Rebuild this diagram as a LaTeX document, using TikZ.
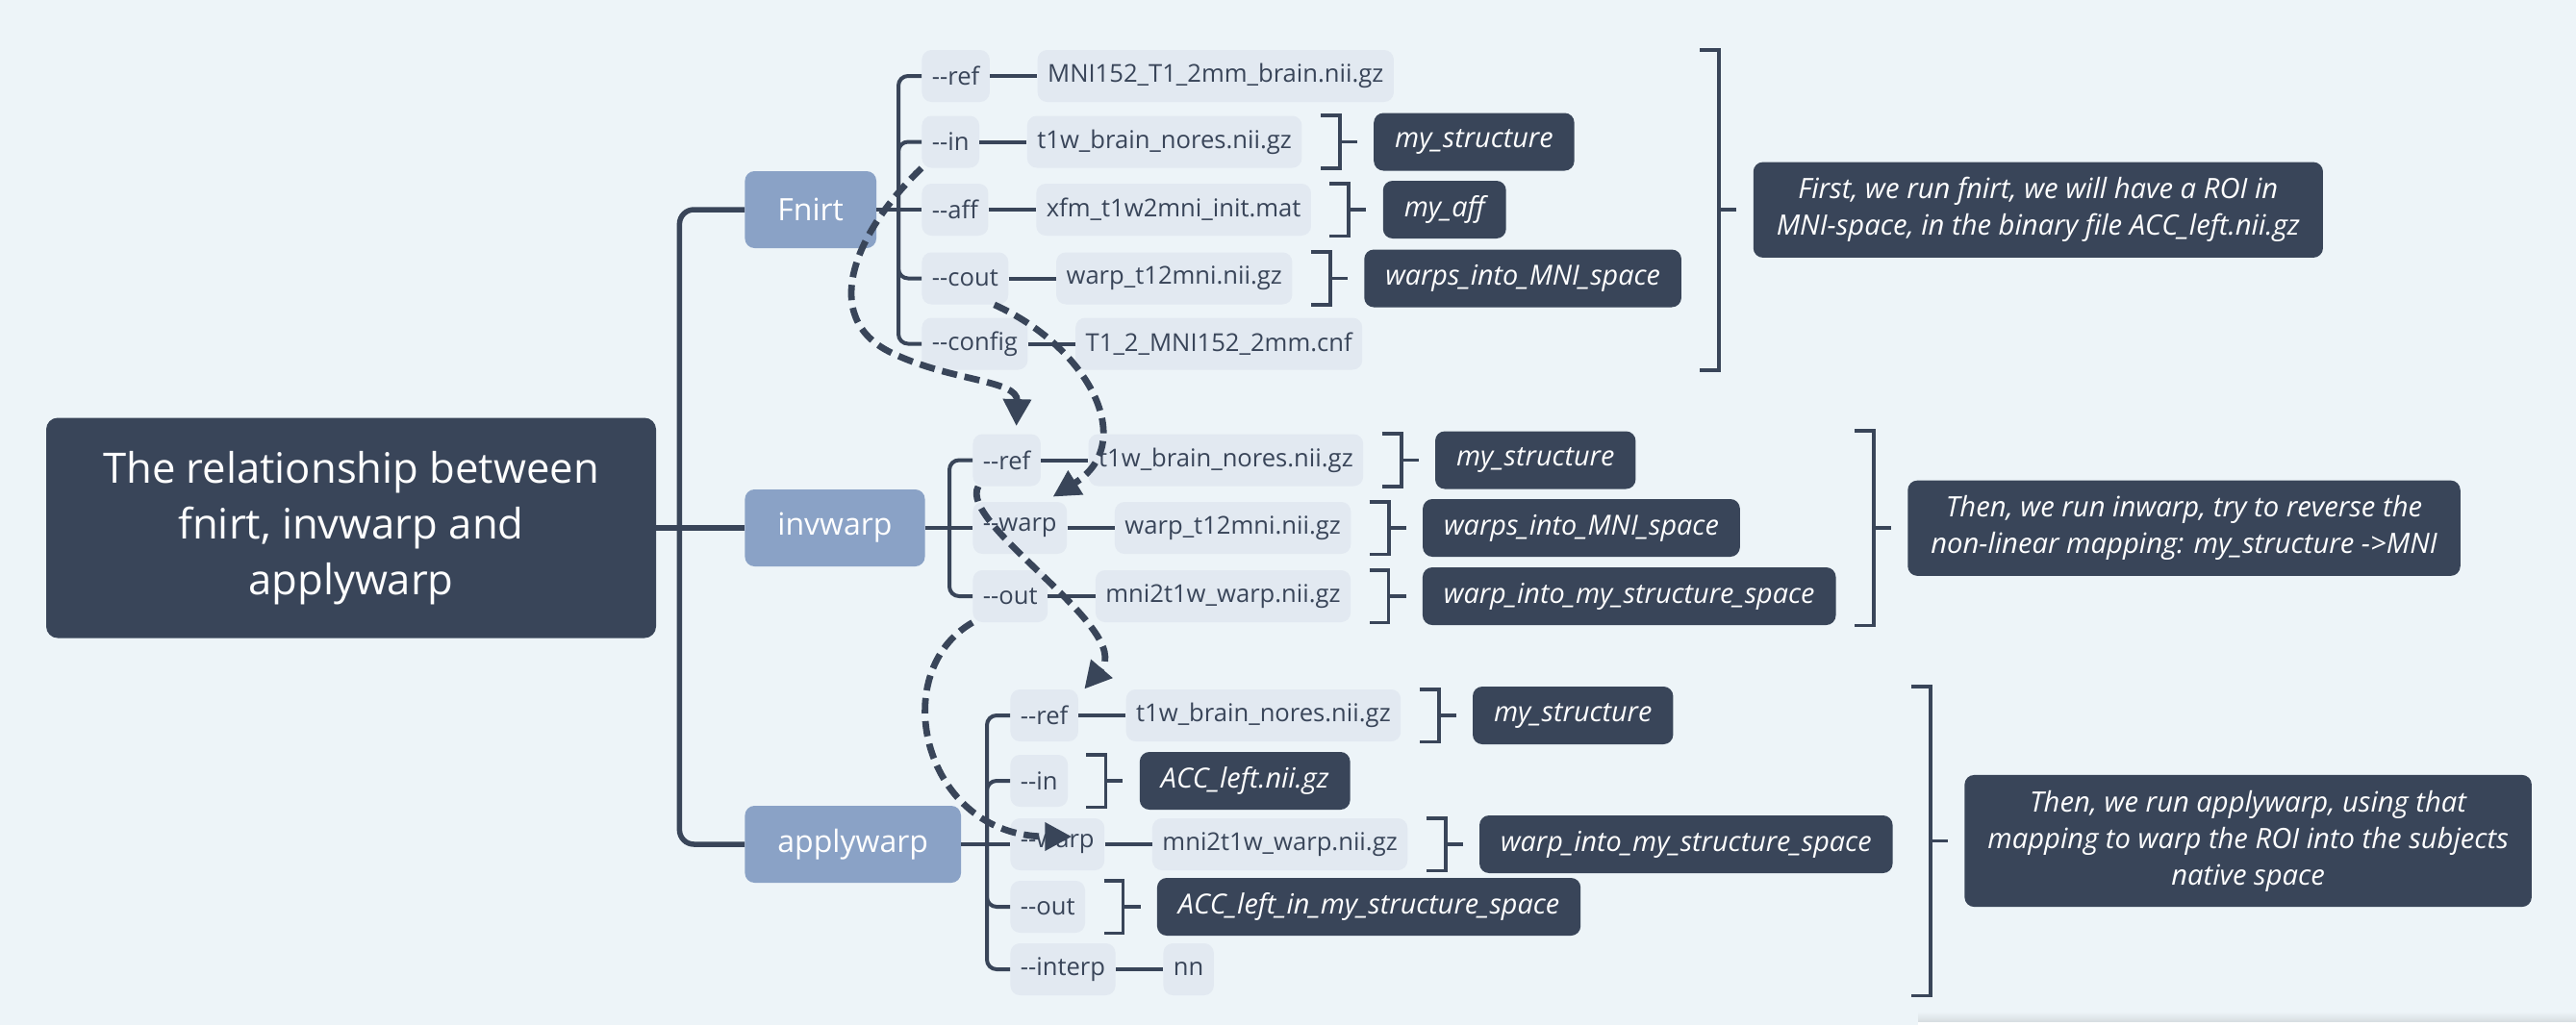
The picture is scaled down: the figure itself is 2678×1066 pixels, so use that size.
\documentclass[tikz,border=0pt]{standalone}
\usepackage{fontspec}
\setmainfont{Open Sans}
\usetikzlibrary{positioning,calc,arrows.meta}
\definecolor{bgc}{HTML}{EDF4F8}
\definecolor{navy}{HTML}{394559}
\definecolor{steel}{HTML}{8AA2C6}
\definecolor{mist}{HTML}{E2E9F1}

\begin{document}
\begin{tikzpicture}[x=0.5pt,y=-0.5pt]
\tikzstyle{every node}+=[inner ysep=0pt]
\tikzstyle{rootbox}=[fill=navy, text=white, rounded corners=6pt, minimum width=317pt, minimum height=114.5pt, align=center, font=\fontsize{21.8pt}{29pt}\selectfont]
\tikzstyle{branch}=[fill=steel, text=white, rounded corners=5pt, inner xsep=17pt, minimum height=40pt, font=\fontsize{16pt}{19pt}\selectfont]
\tikzstyle{opt}=[fill=mist, text=navy, rounded corners=5pt, inner xsep=5.25pt, minimum height=27pt, font=\fontsize{12.8pt}{15pt}\selectfont]
\tikzstyle{tag}=[fill=navy, text=white, rounded corners=5pt, inner xsep=11pt, minimum height=30pt, font=\fontsize{14.4pt}{17pt}\selectfont\itshape]
\tikzstyle{note}=[tag, inner xsep=12pt, inner ysep=8pt, align=center, font=\fontsize{14.6pt}{19pt}\selectfont\itshape]
\tikzstyle{trunk}=[navy, line width=2.75pt, rounded corners=7.5pt]
\tikzstyle{link}=[navy, line width=2pt, rounded corners=5pt]
\tikzstyle{brk}=[navy, line width=1.9pt]
\tikzstyle{flow}=[navy, line width=3.4pt, dash pattern=on 8pt off 4pt, -{Triangle[length=14pt,width=14pt]}]
\fill[bgc] (0,0) rectangle (2678,1066);
\useasboundingbox (0,0) rectangle (2678,1066);
\shade[top color=bgc, bottom color=black!10!bgc] (1994,1052) rectangle (2678,1063);
\fill[white] (1994,1063) rectangle (2678,1066);
% root and the three commands
\node[rootbox] (root) at (365,549) {The relationship between\\fnirt, invwarp and\\applywarp};
\node[branch, anchor=west] (fnirt) at (774,218) {Fnirt};
\node[branch, anchor=west] (invwarp) at (774,549) {invwarp};
\node[branch, anchor=west] (applywarp) at (774,878) {applywarp};
\coordinate (rt) at ([xshift=12pt]root.east);
\draw[trunk] (root) -- (invwarp);
\draw[trunk] (rt) |- (fnirt.west);
\draw[trunk] (rt) |- (applywarp.west);
% fnirt
\node[opt, anchor=west] (fref) at (958,79) {-{}-ref};
\node[opt, anchor=west] (fin) at (958,147.5) {-{}-in};
\node[opt, anchor=west] (faff) at (958,218) {-{}-aff};
\node[opt, anchor=west] (fcout) at (958,289.5) {-{}-cout};
\node[opt, anchor=west] (fconfig) at (958,357.5) {-{}-config};
\node[opt, right=24.5pt of fref] (frefv) {MNI152\_T1\_2mm\_brain.nii.gz};
\node[opt, right=24.5pt of fin] (finv) {t1w\_brain\_nores.nii.gz};
\node[opt, right=24.5pt of faff] (faffv) {xfm\_t1w2mni\_init.mat};
\node[opt, right=24.5pt of fcout] (fcoutv) {warp\_t12mni.nii.gz};
\node[opt, right=24.5pt of fconfig] (fconfigv) {T1\_2\_MNI152\_2mm.cnf};
\node[tag, right=37pt of finv] (find) {my\_structure};
\node[tag, right=37pt of faffv] (faffd) {my\_aff};
\node[tag, right=37pt of fcoutv] (fcoutd) {warps\_into\_MNI\_space};
\coordinate (ftr) at ([xshift=-12pt]faff.west);
\draw[link] (fnirt) -- (faff);
\draw[link] (ftr) |- (fref.west);
\draw[link] (ftr) |- (fin.west);
\draw[link] (ftr) |- (fcout.west);
\draw[link] (ftr) |- (fconfig.west);
\draw[link] (fref) -- (frefv);
\draw[link] (fin) -- (finv);
\draw[link] (faff) -- (faffv);
\draw[link] (fcout) -- (fcoutv);
\draw[link] (fconfig) -- (fconfigv);
% invwarp
\node[opt, anchor=west] (iref) at (1011,478.5) {-{}-ref};
\node[opt, anchor=west] (iwarp) at (1011,549) {-{}-warp};
\node[opt, anchor=west] (iout) at (1011,620) {-{}-out};
\node[opt, right=24.5pt of iref] (irefv) {t1w\_brain\_nores.nii.gz};
\node[opt, right=24.5pt of iwarp] (iwarpv) {warp\_t12mni.nii.gz};
\node[opt, right=24.5pt of iout] (ioutv) {mni2t1w\_warp.nii.gz};
\node[tag, right=37pt of irefv] (irefd) {my\_structure};
\node[tag, right=37pt of iwarpv] (iwarpd) {warps\_into\_MNI\_space};
\node[tag, right=37pt of ioutv] (ioutd) {warp\_into\_my\_structure\_space};
\coordinate (itr) at ([xshift=-12pt]iwarp.west);
\draw[link] (invwarp) -- (iwarp);
\draw[link] (itr) |- (iref.west);
\draw[link] (itr) |- (iout.west);
\draw[link] (iref) -- (irefv);
\draw[link] (iwarp) -- (iwarpv);
\draw[link] (iout) -- (ioutv);
% applywarp
\node[opt, anchor=west] (aref) at (1050,744) {-{}-ref};
\node[opt, anchor=west] (ain) at (1050,812) {-{}-in};
\node[opt, anchor=west] (awarp) at (1050,878) {-{}-warp};
\node[opt, anchor=west] (aout) at (1050,943) {-{}-out};
\node[opt, anchor=west] (ainterp) at (1050,1008) {-{}-interp};
\node[opt, right=24.5pt of aref] (arefv) {t1w\_brain\_nores.nii.gz};
\node[opt, right=24.5pt of awarp] (awarpv) {mni2t1w\_warp.nii.gz};
\node[opt, right=24.5pt of ainterp] (ainterpv) {nn};
\node[tag, right=37pt of arefv] (arefd) {my\_structure};
\node[tag, right=37pt of ain] (aind) {ACC\_left.nii.gz};
\node[tag, right=37pt of awarpv] (awarpd) {warp\_into\_my\_structure\_space};
\node[tag, right=37pt of aout] (aoutd) {ACC\_left\_in\_my\_structure\_space};
\coordinate (atr) at ([xshift=-12pt]awarp.west);
\draw[link] (applywarp) -- (awarp);
\draw[link] (atr) |- (aref.west);
\draw[link] (atr) |- (ain.west);
\draw[link] (atr) |- (aout.west);
\draw[link] (atr) |- (ainterp.west);
\draw[link] (aref) -- (arefv);
\draw[link] (awarp) -- (awarpv);
\draw[link] (ainterp) -- (ainterpv);
% small brackets
\draw[brk] ([xshift=9.5pt]finv.north east) -- ([xshift=19.5pt]finv.north east) -- ([xshift=19.5pt]finv.south east) -- ([xshift=9.5pt]finv.south east);
\draw[brk] ([xshift=19.5pt]finv.east) -- ([xshift=28.5pt]finv.east);
\draw[brk] ([xshift=9.5pt]faffv.north east) -- ([xshift=19.5pt]faffv.north east) -- ([xshift=19.5pt]faffv.south east) -- ([xshift=9.5pt]faffv.south east);
\draw[brk] ([xshift=19.5pt]faffv.east) -- ([xshift=28.5pt]faffv.east);
\draw[brk] ([xshift=9.5pt]fcoutv.north east) -- ([xshift=19.5pt]fcoutv.north east) -- ([xshift=19.5pt]fcoutv.south east) -- ([xshift=9.5pt]fcoutv.south east);
\draw[brk] ([xshift=19.5pt]fcoutv.east) -- ([xshift=28.5pt]fcoutv.east);
\draw[brk] ([xshift=9.5pt]irefv.north east) -- ([xshift=19.5pt]irefv.north east) -- ([xshift=19.5pt]irefv.south east) -- ([xshift=9.5pt]irefv.south east);
\draw[brk] ([xshift=19.5pt]irefv.east) -- ([xshift=28.5pt]irefv.east);
\draw[brk] ([xshift=9.5pt]iwarpv.north east) -- ([xshift=19.5pt]iwarpv.north east) -- ([xshift=19.5pt]iwarpv.south east) -- ([xshift=9.5pt]iwarpv.south east);
\draw[brk] ([xshift=19.5pt]iwarpv.east) -- ([xshift=28.5pt]iwarpv.east);
\draw[brk] ([xshift=9.5pt]ioutv.north east) -- ([xshift=19.5pt]ioutv.north east) -- ([xshift=19.5pt]ioutv.south east) -- ([xshift=9.5pt]ioutv.south east);
\draw[brk] ([xshift=19.5pt]ioutv.east) -- ([xshift=28.5pt]ioutv.east);
\draw[brk] ([xshift=9.5pt]arefv.north east) -- ([xshift=19.5pt]arefv.north east) -- ([xshift=19.5pt]arefv.south east) -- ([xshift=9.5pt]arefv.south east);
\draw[brk] ([xshift=19.5pt]arefv.east) -- ([xshift=28.5pt]arefv.east);
\draw[brk] ([xshift=9.5pt]ain.north east) -- ([xshift=19.5pt]ain.north east) -- ([xshift=19.5pt]ain.south east) -- ([xshift=9.5pt]ain.south east);
\draw[brk] ([xshift=19.5pt]ain.east) -- ([xshift=28.5pt]ain.east);
\draw[brk] ([xshift=9.5pt]awarpv.north east) -- ([xshift=19.5pt]awarpv.north east) -- ([xshift=19.5pt]awarpv.south east) -- ([xshift=9.5pt]awarpv.south east);
\draw[brk] ([xshift=19.5pt]awarpv.east) -- ([xshift=28.5pt]awarpv.east);
\draw[brk] ([xshift=9.5pt]aout.north east) -- ([xshift=19.5pt]aout.north east) -- ([xshift=19.5pt]aout.south east) -- ([xshift=9.5pt]aout.south east);
\draw[brk] ([xshift=19.5pt]aout.east) -- ([xshift=28.5pt]aout.east);
% big brackets and notes
\coordinate (fbt) at ($(fcoutd.east |- fref.north)+(19.5pt,0)$);
\coordinate (fbb) at ($(fcoutd.east |- fconfig.south)+(19.5pt,0)$);
\draw[brk] ($(fbt)+(-10pt,0)$) -- (fbt) -- (fbb) -- ($(fbb)+(-10pt,0)$);
\draw[brk] ($(fbt)!0.5!(fbb)$) -- ++(9pt,0) coordinate (fbm);
\node[note, anchor=west] (fnote) at ($(fbm)+(8.5pt,0)$) {First, we run fnirt, we will have a ROI in\\MNI-space, in the binary file ACC\_left.nii.gz};
\coordinate (ibt) at ($(ioutd.east |- irefd.north)+(19.5pt,0)$);
\coordinate (ibb) at ($(ioutd.east |- ioutd.south)+(19.5pt,0)$);
\draw[brk] ($(ibt)+(-10pt,0)$) -- (ibt) -- (ibb) -- ($(ibb)+(-10pt,0)$);
\draw[brk] ($(ibt)!0.5!(ibb)$) -- ++(9pt,0) coordinate (ibm);
\node[note, anchor=west] (inote) at ($(ibm)+(8.5pt,0)$) {Then, we run inwarp, try to reverse the\\non-linear mapping: my\_structure ->MNI};
\coordinate (abt) at ($(awarpd.east |- arefd.north)+(19.5pt,0)$);
\coordinate (abb) at ($(awarpd.east |- ainterp.south)+(19.5pt,0)$);
\draw[brk] ($(abt)+(-10pt,0)$) -- (abt) -- (abb) -- ($(abb)+(-10pt,0)$);
\draw[brk] ($(abt)!0.5!(abb)$) -- ++(9pt,0) coordinate (abm);
\node[note, anchor=west] (anote) at ($(abm)+(8.5pt,0)$) {Then, we run applywarp, using that\\mapping to warp the ROI into the subjects\\native space};
% dashed relations
\draw[flow] (fin.south west) .. controls (890,240) and (850,330) .. (927,367) .. controls (990,397) and (1058,395) .. ([shift={(5pt,4pt)}]iref.north);
\draw[flow] ([xshift=-7.5pt]fcout.south east) .. controls (1130,360) and (1185,460) .. ([shift={(-7.5pt,2.5pt)}]iwarp.north east);
\draw[flow] (iout.south west) .. controls (920,700) and (960,870) .. ([shift={(7.5pt,4pt)}]awarp.center);
\draw[flow] ([xshift=3pt]iref.south west) .. controls (995,545) and (1180,655) .. ([xshift=3pt]aref.north east);
\end{tikzpicture}
\end{document}
